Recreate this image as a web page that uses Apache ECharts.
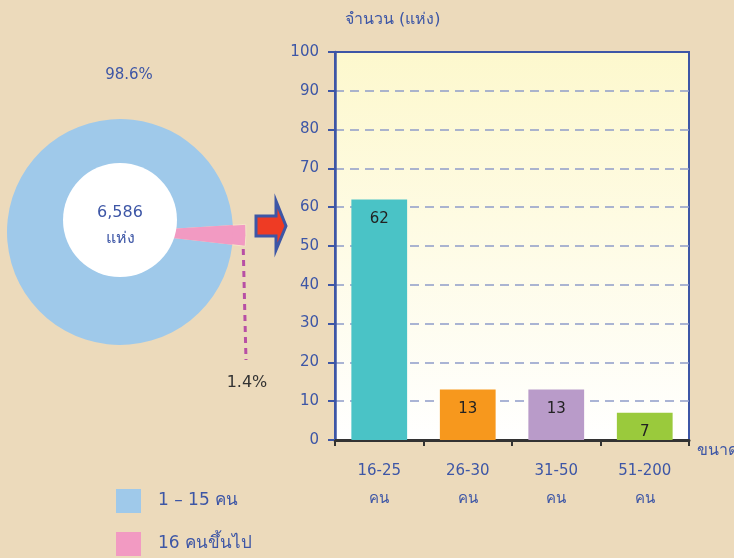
<!DOCTYPE html>
<html lang="th">
<head>
<meta charset="UTF-8">
<title>Chart</title>
<script src="https://cdn.jsdelivr.net/npm/echarts@6/dist/echarts.min.js"></script>
<style>
    html, body { margin: 0; padding: 0; background: #ecdabb; }
    #main { width: 734px; height: 558px; }
</style>
</head>
<body>
<div id="main"></div>
<script>
    // ข้อมูล
    var pieCats = ['1 – 15 คน', '16 คนขึ้นไป'];
    var pieValues = [6491, 95];
    var barCats = ['16-25\nคน', '26-30\nคน', '31-50\nคน', '51-200\nคน'];
    var barValues = [62, 13, 13, 7];
    var yMin = 0, yMax = 100, yStep = 10;

    var blue = '#3d56a6';
    var pieColors = ['#9fc9ea', '#f29ac2'];
    var barColors = ['#4ac3c6', '#f7981d', '#b99bc9', '#9aca3c'];
    var font = 'DejaVu Sans, Noto Sans, sans-serif';

    var total = pieValues.reduce(function (a, b) { return a + b; }, 0);

    var chart = echarts.init(document.getElementById('main'));

    // legend แยกเป็นสองอัน เพื่อให้เรียงลงแนวตั้ง
    var legends = pieCats.map(function (name, i) {
        return {
            left: 111, top: 484 + i * 43,
            itemWidth: 25, itemHeight: 24,
            icon: 'rect',
            data: [name],
            textStyle: { color: blue, fontSize: 17, padding: [2, 0, 0, 12] }
        };
    });

    var option = {
        backgroundColor: '#ecdabb',
        textStyle: { fontFamily: font },
        legend: legends,
        grid: {
            left: 335, right: 45, top: 52, bottom: 118,
            outerBoundsMode: 'none',
            containLabel: false,
            show: true,
            borderColor: blue, borderWidth: 2,
            backgroundColor: new echarts.graphic.LinearGradient(0, 0, 0, 1, [
                { offset: 0, color: '#fdf8cd' },
                { offset: 1, color: '#ffffff' }
            ])
        },
        xAxis: {
            type: 'category',
            data: barCats,
            name: 'ขนาด',
            nameLocation: 'end',
            nameGap: 8,
            nameTextStyle: { color: blue, fontSize: 16, verticalAlign: 'top', padding: [3, 0, 0, 0] },
            axisLine: { lineStyle: { color: '#333', width: 3 } },
            axisTick: { show: true, length: 6, lineStyle: { color: '#333', width: 2 } },
            axisLabel: { color: blue, fontSize: 15, margin: 17, lineHeight: 28 }
        },
        yAxis: {
            type: 'value',
            min: yMin, max: yMax, interval: yStep,
            name: 'จำนวน (แห่ง)',
            nameLocation: 'end',
            nameGap: 24,
            nameTextStyle: { color: blue, fontSize: 16, align: 'left', padding: [0, 0, 0, 10] },
            axisLine: { show: true, lineStyle: { color: blue, width: 2.5 } },
            axisTick: { show: true, length: 7, lineStyle: { color: blue, width: 2 } },
            axisLabel: { color: blue, fontSize: 15, margin: 16 },
            splitLine: { showMaxLine: false, lineStyle: { color: '#8e9cc9', width: 1.5, type: [9, 6] } }
        },
        graphic: [{
            // ลูกศรชี้ไปที่กราฟแท่ง
            type: 'polygon',
            shape: { points: [[256, 216], [276, 216], [276, 201], [286, 226], [276, 250], [276, 236], [256, 236]] },
            style: { fill: '#ee3b24', stroke: blue, lineWidth: 3 }
        }],
        series: [
            {
                type: 'pie',
                center: [120, 232],
                radius: [0, 113],
                startAngle: -6.5,
                minAngle: 10,
                percentPrecision: 1,
                avoidLabelOverlap: false,
                silent: true,
                data: pieValues.map(function (v, i) {
                    return {
                        value: v, name: pieCats[i],
                        itemStyle: { color: pieColors[i] },
                        label: { show: i === 0 }
                    };
                }),
                label: { formatter: '{d}%', color: blue, fontSize: 15 },
                labelLine: { show: false },
                labelLayout: function () {
                    return { x: 129, y: 75, align: 'center', verticalAlign: 'middle' };
                }
            },
            {
                type: 'pie',
                center: [120, 232],
                radius: [0, 126],
                startAngle: -6.5,
                minAngle: 10,
                percentPrecision: 1,
                avoidLabelOverlap: false,
                silent: true,
                z: 1,
                data: pieValues.map(function (v, i) {
                    return {
                        value: v, name: pieCats[i],
                        itemStyle: i === 0 ? { color: 'rgba(0,0,0,0)' } : { color: pieColors[i], borderColor: '#f5e6c8', borderWidth: 1 },
                        label: { show: i === 1 },
                        labelLine: { show: i === 1 }
                    };
                }),
                label: { formatter: '{d}%', color: '#333', fontSize: 16 },
                labelLine: { lineStyle: { color: '#b84fa5', width: 3, type: [6, 5] } },
                labelLayout: function () {
                    return {
                        x: 247, y: 383, align: 'center', verticalAlign: 'middle',
                        labelLinePoints: [[243, 238], [244.5, 300], [246, 360]]
                    };
                }
            },
            {
                // วงกลมสีขาวตรงกลาง
                type: 'pie',
                center: [120, 220],
                radius: [0, 57],
                silent: true,
                z: 3,
                data: [{ value: total, name: 'total', itemStyle: { color: '#ffffff' } }],
                label: {
                    position: 'center',
                    formatter: function (p) { return p.value.toLocaleString('en-US') + '\nแห่ง'; },
                    color: blue, fontSize: 16, lineHeight: 26
                },
                labelLine: { show: false },
                labelLayout: function () {
                    return { dy: 6 };
                }
            },
            {
                type: 'bar',
                data: barValues.map(function (v, i) {
                    return { value: v, itemStyle: { color: barColors[i] } };
                }),
                barWidth: '63%',
                label: { show: true, position: 'insideTop', distance: 12, color: '#222', fontSize: 15 }
            }
        ]
    };

    chart.setOption(option);
</script>
</body>
</html>
